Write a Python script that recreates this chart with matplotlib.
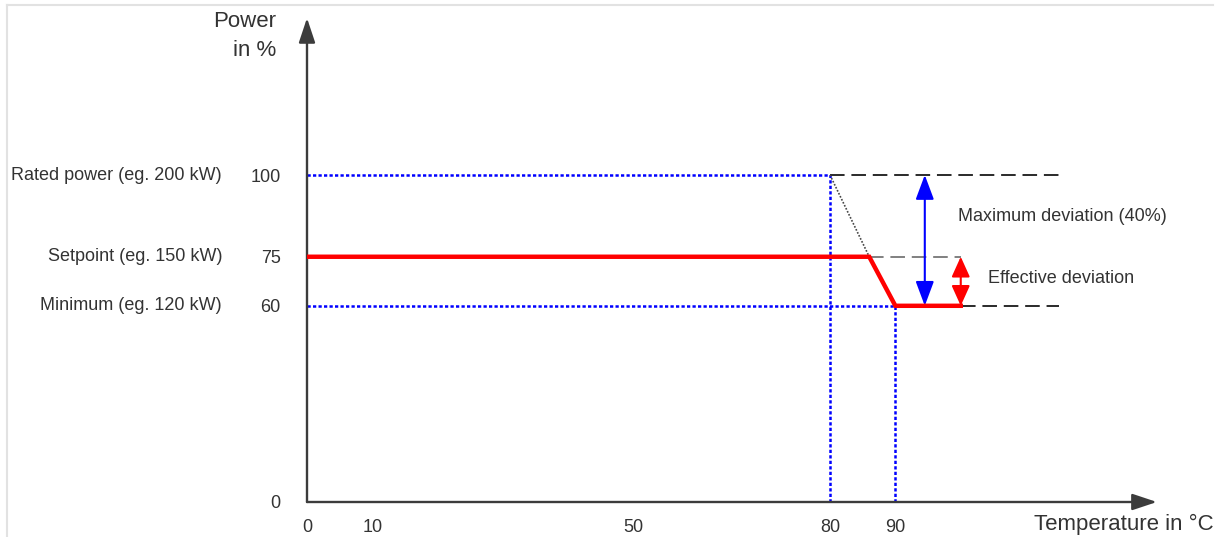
import matplotlib.pyplot as plt
from matplotlib.lines import Line2D

plt.rcParams['font.family'] = ['Liberation Sans', 'DejaVu Sans']

# ---- data ----
x_ticks = [0, 10, 50, 80, 90]
y_ticks = [0, 60, 75, 100]
level_names = ["Rated power (eg. 200 kW)", "Setpoint (eg. 150 kW)", "Minimum (eg. 120 kW)"]
level_values = [100, 75, 60]

rated = 100
setpoint = 75
minimum = 60
t_derate = 80      # derating starts
t_min = 90         # minimum power reached

# real power curve (red)
curve_t = [0, 86, 90, 100]
curve_p = [75, 75, 60, 60]
# theoretical derating slope from rated power
slope_t = [80, 86]
slope_p = [100, 75]

ref_end = 115      # end of dashed reference lines
max_dev_t = 94.5   # position of the max deviation arrow
eff_dev_t = 100    # position of the effective deviation arrow

x_max = 130
y_max = 148

TXT = '#333333'

# ---- figure ----
W, H = 1228, 537
fig = plt.figure(figsize=(W / 100, H / 100), dpi=100)
px_x = 6.5375   # pixels per degree
px_y = 3.27     # pixels per percent
ax = fig.add_axes([307 / W, 35 / H, x_max * px_x / W, y_max * px_y / H])
ax.set_xlim(0, x_max)
ax.set_ylim(0, y_max)
for s in ax.spines.values():
    s.set_visible(False)

# light frame around the picture
fig.add_artist(Line2D([7 / W, 1213 / W], [1 - 5 / H, 1 - 5 / H], color='#e2e2e2', lw=1.5))
fig.add_artist(Line2D([7 / W, 7 / W], [0, 1 - 5 / H], color='#e2e2e2', lw=1.5))

# axes with arrow heads
axis_style = '-|>,head_length=0.75,head_width=0.25'
for end in [(x_max, 0), (0, y_max)]:
    a = ax.annotate('', xy=end, xytext=(0, 0),
                    arrowprops=dict(arrowstyle=axis_style, mutation_scale=20, color='#3c3c3c',
                                    lw=1.7, shrinkA=0, shrinkB=0))
    a.arrow_patch.set_clip_on(False)

# blue dotted helper lines
blue_ls = (0, (1.3, 0.9))
ax.plot([0, t_derate], [rated, rated], color='#0000ff', lw=1.8, ls=blue_ls)
ax.plot([t_derate, t_derate], [0, rated], color='#0000ff', lw=1.8, ls=blue_ls)
ax.plot([0, t_min], [minimum, minimum], color='#0000ff', lw=1.8, ls=blue_ls)
ax.plot([t_min, t_min], [0, minimum], color='#0000ff', lw=1.8, ls=blue_ls)

# dashed reference lines
dash_ls = (0, (7.5, 3.5))
ax.plot([t_derate, ref_end], [rated, rated], color='#2a2a2a', lw=1.4, ls=dash_ls)
ax.plot([curve_t[1], eff_dev_t], [setpoint, setpoint], color='#808080', lw=1.4, ls=dash_ls)
ax.plot([curve_t[-1], ref_end], [minimum, minimum], color='#2a2a2a', lw=1.4, ls=dash_ls)

# theoretical slope
ax.plot(slope_t, slope_p, color='#444444', lw=1.2, ls=(0, (1, 1)))

# power curve
ax.plot(curve_t, curve_p, color='#ff0000', lw=3.2, solid_joinstyle='miter', zorder=5)

# deviation arrows
ax.annotate('', xy=(max_dev_t, rated), xytext=(max_dev_t, minimum),
            arrowprops=dict(arrowstyle='<|-|>,head_length=0.75,head_width=0.28',
                            mutation_scale=20, color='#0000ff', lw=1.5, shrinkA=0, shrinkB=0))
ax.annotate('', xy=(eff_dev_t, setpoint), xytext=(eff_dev_t, minimum),
            arrowprops=dict(arrowstyle='<|-|>,head_length=0.62,head_width=0.28',
                            mutation_scale=20, color='#ff0000', lw=1.5, shrinkA=0, shrinkB=0))

ax.text(99.6, 87.2, "Maximum deviation (40%)", fontsize=13, color=TXT, va='center', ha='left')
ax.text(104.2, 68.5, "Effective deviation", fontsize=13, color=TXT, va='center', ha='left')

# ticks
ax.set_xticks(x_ticks)
ax.set_xticklabels([str(v) for v in x_ticks])
ax.set_yticks(y_ticks)
ax.set_yticklabels([str(v) for v in y_ticks])
ax.tick_params(axis='y', length=0, pad=19, labelsize=13, labelcolor=TXT)
ax.tick_params(axis='x', length=0, pad=12, labelsize=13, labelcolor=TXT)

# level names left of the tick labels
for name, v in zip(level_names, level_values):
    ax.text(-13, v, name, fontsize=13, color=TXT, ha='right', va='center', clip_on=False)

# axis titles
ax.text(-4.7, 142.5, "Power\nin %", fontsize=16, color=TXT, ha='right', va='center',
        multialignment='right', linespacing=1.45, clip_on=False)
ax.text(111.2, -7.0, "Temperature in °C", fontsize=16, color=TXT, ha='left', va='center',
        clip_on=False)

fig.savefig('out.png', dpi=100)
